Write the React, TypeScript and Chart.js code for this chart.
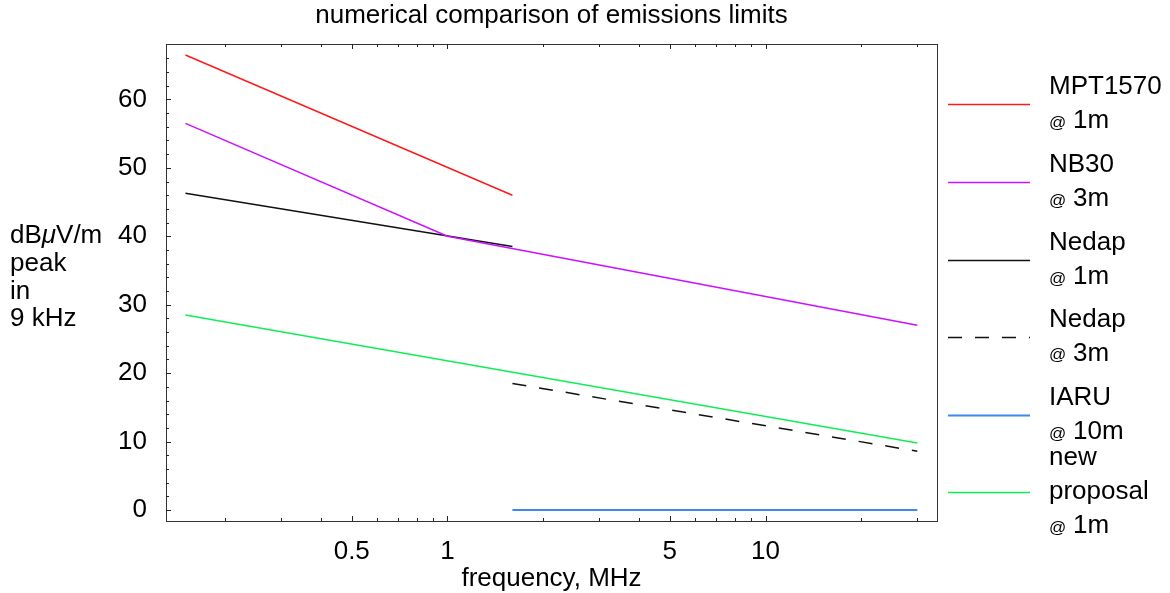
import React, { useEffect, useRef } from "react";
import { Chart, registerables } from "chart.js";

Chart.register(...registerables);

// ---- data ----
const mptFreq = [0.15, 1.6];
const mptLevel = [66.5, 46];
const nb30Freq = [0.15, 1, 30];
const nb30Level = [56.5, 40, 27];
const nedap1Freq = [0.15, 1.6];
const nedap1Level = [46.3, 38.5];
const nedap3Freq = [1.6, 30];
const nedap3Level = [18.5, 8.6];
const iaruFreq = [1.6, 30];
const iaruLevel = [0, 0];
const newFreq = [0.15, 30];
const newLevel = [28.5, 9.8];

const seriesNames = [
  ["MPT1570", "@ 1m"],
  ["NB30", "@ 3m"],
  ["Nedap", "@ 1m"],
  ["Nedap", "@ 3m"],
  ["IARU", "@ 10m"],
  ["new", "proposal", "@ 1m"],
];
const seriesColors = ["#ff1a1a", "#cc11ff", "#111111", "#111111", "#3f86ee", "#11ee55"];

const xLabeledTicks = [0.5, 1, 5, 10];
const xMinorTicks = [0.2, 0.3, 0.4, 0.6, 0.7, 0.8, 0.9, 2, 3, 4, 6, 7, 8, 9, 20, 30];
const yMajorTicks = [0, 10, 20, 30, 40, 50, 60];
const yMinorTicks = [2, 4, 6, 8, 12, 14, 16, 18, 22, 24, 26, 28, 32, 34, 36, 38, 42, 44, 46, 48, 52, 54, 56, 58, 62, 64, 66];

const chartTitle = "numerical comparison of emissions limits";
const xTitle = "frequency, MHz";
const yTitleLines = ["dB\u03bcV/m", "peak", "in", "9 kHz"];

const FONT = "'Liberation Sans', Arial, sans-serif";
const FS = 26;

function pts(f: number[], l: number[]) {
  return f.map((x, i) => ({ x, y: l[i] }));
}

const decorPlugin = {
  id: "decor",
  afterDraw(chart: any) {
    const { ctx, chartArea: a, scales } = chart;
    const xs = scales.x;
    const ys = scales.y;
    ctx.save();
    // frame
    ctx.strokeStyle = "#333";
    ctx.lineWidth = 1;
    ctx.strokeRect(Math.round(a.left) + 0.5, Math.round(a.top) + 0.5, Math.round(a.right - a.left), Math.round(a.bottom - a.top));
    // ticks
    ctx.strokeStyle = "#222";
    const drawX = (v: number, len: number) => {
      const px = Math.round(xs.getPixelForValue(v)) + 0.5;
      ctx.beginPath();
      ctx.moveTo(px, a.bottom);
      ctx.lineTo(px, a.bottom - len);
      ctx.moveTo(px, a.top);
      ctx.lineTo(px, a.top + len);
      ctx.stroke();
    };
    xLabeledTicks.forEach((v) => drawX(v, 5));
    xMinorTicks.forEach((v) => drawX(v, 3));
    const drawY = (v: number, len: number) => {
      const py = Math.round(ys.getPixelForValue(v)) + 0.5;
      ctx.beginPath();
      ctx.moveTo(a.left, py);
      ctx.lineTo(a.left + len, py);
      ctx.stroke();
    };
    yMajorTicks.forEach((v) => drawY(v, 5));
    yMinorTicks.forEach((v) => drawY(v, 3));

    // title
    ctx.fillStyle = "#000";
    ctx.font = `${FS}px ${FONT}`;
    ctx.textAlign = "center";
    ctx.textBaseline = "middle";
    ctx.fillText(chartTitle, (a.left + a.right) / 2, 16);
    // x title
    ctx.fillText(xTitle, (a.left + a.right) / 2, 579);
    // y title
    ctx.textAlign = "left";
    yTitleLines.forEach((t, i) => {
      const y = 236 + i * 27.7;
      if (i === 0) {
        let x = 10;
        ctx.font = `${FS}px ${FONT}`;
        ctx.fillText("dB", x, y);
        x += ctx.measureText("dB").width;
        ctx.font = `italic ${FS}px ${FONT}`;
        ctx.fillText("\u03bc", x, y);
        x += ctx.measureText("\u03bc").width;
        ctx.font = `${FS}px ${FONT}`;
        ctx.fillText("V/m", x, y);
      } else {
        ctx.font = `${FS}px ${FONT}`;
        ctx.fillText(t, 10, y);
      }
    });

    // legend
    const ds = chart.data.datasets;
    const rowY = [104.3, 182.3, 260, 336.7, 415, 492.3];
    ds.forEach((d: any, i: number) => {
      const y = Math.round(rowY[i]) + 0.5;
      ctx.strokeStyle = d.borderColor;
      ctx.lineWidth = d.borderWidth;
      ctx.setLineDash(d.borderDash || []);
      ctx.beginPath();
      ctx.moveTo(948, y);
      ctx.lineTo(1030, y);
      ctx.stroke();
      ctx.setLineDash([]);
      const lines = seriesNames[i];
      const n = lines.length;
      const lh = 34;
      lines.forEach((t, j) => {
        const ty = rowY[i] + (j - (n - 1) / 2) * lh;
        ctx.fillStyle = "#000";
        ctx.textAlign = "left";
        if (t.startsWith("@")) {
          ctx.font = `17px ${FONT}`;
          ctx.fillText("@", 1049, ty + 2);
          const w = ctx.measureText("@ ").width;
          ctx.font = `${FS}px ${FONT}`;
          ctx.fillText(t.slice(2), 1049 + w + 2, ty);
        } else {
          ctx.font = `${FS}px ${FONT}`;
          ctx.fillText(t, 1049, ty);
        }
      });
    });
    ctx.restore();
  },
};

export default function App() {
  const ref = useRef<HTMLCanvasElement>(null);
  useEffect(() => {
    document.body.style.margin = "0";
    const names = seriesNames.map((s) => s.join(" "));
    const chart = new Chart(ref.current as HTMLCanvasElement, {
      type: "line",
      data: {
        datasets: [
          { label: names[0], data: pts(mptFreq, mptLevel), borderColor: seriesColors[0], borderWidth: 1.5 },
          { label: names[1], data: pts(nb30Freq, nb30Level), borderColor: seriesColors[1], borderWidth: 1.5 },
          { label: names[2], data: pts(nedap1Freq, nedap1Level), borderColor: seriesColors[2], borderWidth: 1.5 },
          { label: names[3], data: pts(nedap3Freq, nedap3Level), borderColor: seriesColors[3], borderWidth: 1.5, borderDash: [14, 13] },
          { label: names[4], data: pts(iaruFreq, iaruLevel), borderColor: seriesColors[4], borderWidth: 2 },
          { label: names[5], data: pts(newFreq, newLevel), borderColor: seriesColors[5], borderWidth: 1.5 },
        ] as any,
      },
      options: {
        animation: false,
        responsive: false,
        parsing: false as any,
        elements: { point: { radius: 0 }, line: { tension: 0 } },
        layout: { padding: { left: 0, right: 233, top: 44, bottom: 0 } },
        plugins: { legend: { display: false }, tooltip: { enabled: false }, title: { display: false } },
        scales: {
          x: {
            type: "logarithmic",
            min: 0.1303,
            max: 34.6,
            grid: { display: false, drawTicks: false },
            border: { display: false },
            afterBuildTicks: (s: any) => {
              s.ticks = xLabeledTicks.map((v) => ({ value: v }));
            },
            afterFit: (s: any) => {
              s.height = 72;
            },
            ticks: {
              autoSkip: false,
              maxRotation: 0,
              padding: 15,
              color: "#000",
              font: { family: FONT, size: FS },
              callback: (v: any) => String(v),
            },
          },
          y: {
            type: "linear",
            min: -1.6,
            max: 68.1,
            grid: { display: false, drawTicks: false },
            border: { display: false },
            afterBuildTicks: (s: any) => {
              s.ticks = yMajorTicks.map((v) => ({ value: v }));
            },
            afterFit: (s: any) => {
              s.width = 166;
            },
            ticks: {
              autoSkip: false,
              padding: 19,
              color: "#000",
              font: { family: FONT, size: FS },
              callback: (v: any) => String(v),
            },
          },
        },
      },
      plugins: [decorPlugin],
    });
    return () => chart.destroy();
  }, []);
  return (
    <div style={{ position: "absolute", left: 0, top: 0, width: 1170, height: 593, background: "#fff" }}>
      <canvas ref={ref} width={1170} height={593} style={{ width: 1170, height: 593 }} />
    </div>
  );
}
